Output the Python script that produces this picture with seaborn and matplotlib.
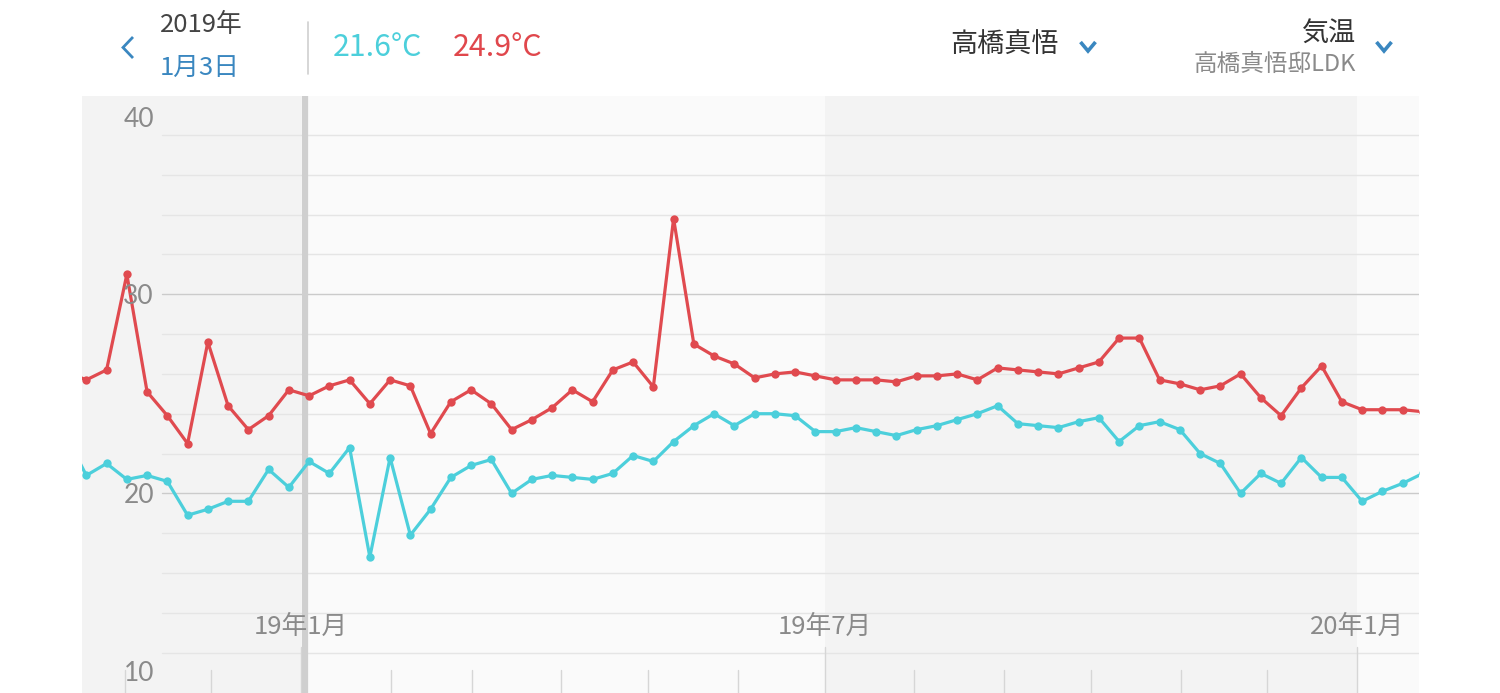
import matplotlib
matplotlib.use("Agg")
import matplotlib.pyplot as plt
import matplotlib.transforms as mtransforms
from matplotlib.lines import Line2D
import numpy as np
import pandas as pd
import seaborn as sns

# ---------------- data ----------------
start_date = "2018-10-11 18:00"
n_points = 68
cursor_date = "2019-01-03"
header_year = "2019年"
header_day = "1月3日"
header_min = "21.6°C"
header_max = "24.9°C"
user_name = "高橋真悟"
metric_name = "気温"
room_name = "高橋真悟邸LDK"

max_temp = [26.1,
            25.7, 26.2, 31.0, 25.1, 23.9, 22.5, 27.6, 24.4, 23.2, 23.9, 25.2, 24.9, 25.4,
            25.7, 24.5, 25.7, 25.4, 23.0, 24.6, 25.2, 24.5, 23.2, 23.7, 24.3, 25.2,
            24.6, 26.2, 26.6, 25.35, 33.8, 27.5, 26.9, 26.5, 25.8, 26.0, 26.1, 25.9,
            25.7, 25.7, 25.7, 25.6, 25.9, 25.9, 26.0, 25.7, 26.3, 26.2, 26.1, 26.0,
            26.3, 26.6, 27.8, 27.8, 25.7, 25.5, 25.2, 25.4, 26.0, 24.8, 23.9, 25.3,
            26.4, 24.6, 24.2, 24.2, 24.2,
            24.1]
min_temp = [22.9,
            20.9, 21.5, 20.7, 20.9, 20.6, 18.9, 19.2, 19.6, 19.6, 21.2, 20.3, 21.6, 21.0,
            22.3, 16.8, 21.8, 17.9, 19.2, 20.8, 21.4, 21.7, 20.0, 20.7, 20.9, 20.8,
            20.7, 21.0, 21.9, 21.6, 22.6, 23.4, 24.0, 23.4, 24.0, 24.0, 23.9, 23.1,
            23.1, 23.3, 23.1, 22.9, 23.2, 23.4, 23.7, 24.0, 24.4, 23.5, 23.4, 23.3,
            23.6, 23.8, 22.6, 23.4, 23.6, 23.2, 22.0, 21.5, 20.0, 21.0, 20.5, 21.8,
            20.8, 20.8, 19.6, 20.1, 20.5,
            21.0]
series_names = ["max", "min"]
series_colors = ["#e04a4f", "#4ccfdb"]

month_ticks = ["2018-11-01", "2018-12-01", "2019-02-01", "2019-03-01", "2019-04-01",
               "2019-05-01", "2019-06-01", "2019-08-01", "2019-09-01", "2019-10-01",
               "2019-11-01", "2019-12-01"]
halfyear_ticks = ["2019-01-01", "2019-07-01", "2020-01-01"]
halfyear_labels = ["19年1月", "19年7月", "20年1月"]
band_edges = ["2018-07-01", "2019-01-01", "2019-07-01", "2020-01-01", "2020-07-01"]
y_major = [20, 30]
y_minor = [12, 14, 16, 18, 22, 24, 26, 28, 32, 34, 36, 38]
y_labels = [40, 30, 20, 10]

dates = pd.date_range(start_date, periods=n_points, freq="7D")
df = pd.DataFrame({
    "date": np.concatenate([dates, dates]),
    "temp": max_temp + min_temp,
    "series": [series_names[0]] * n_points + [series_names[1]] * n_points,
})

# ---------------- figure ----------------
sns.set_theme(style="white")
plt.rcParams["font.family"] = ["Noto Sans CJK JP", "DejaVu Sans"]

W, H = 1500, 693
fig = plt.figure(figsize=(W / 100, H / 100), dpi=100)
fig.patch.set_facecolor("white")

left_px, right_px, top_px = 82, 1419, 96
ax = fig.add_axes([left_px / W, 0, (right_px - left_px) / W, (H - top_px) / H])
ax.set_facecolor("#fafafa")

xmin = pd.Timestamp("2018-10-17 06:00")
xmax = pd.Timestamp("2020-01-22 10:00")

# alternating half-year bands
for i in range(len(band_edges) - 1):
    c = "#f3f3f3" if i % 2 == 0 else "#fafafa"
    ax.axvspan(pd.Timestamp(band_edges[i]), pd.Timestamp(band_edges[i + 1]),
               color=c, lw=0, zorder=0)

# grid lines (start right of the y labels)
gx0 = (162 - left_px) / (right_px - left_px)
for v in y_minor:
    ax.axhline(v, xmin=gx0, xmax=1, color="#e5e5e5", lw=1.0, zorder=1)
for v in y_major:
    ax.axhline(v, xmin=gx0, xmax=1, color="#cbcbcb", lw=1.0, zorder=1)

# bottom tick marks
btrans = mtransforms.blended_transform_factory(ax.transData, ax.transAxes)
for d in month_ticks:
    ax.plot([pd.Timestamp(d)] * 2, [0, 23 / 597], transform=btrans,
            color="#d6d6d6", lw=1.0, zorder=1)
for d in halfyear_ticks:
    ax.plot([pd.Timestamp(d)] * 2, [0, 46 / 597], transform=btrans,
            color="#d6d6d6", lw=1.0, zorder=1)

# cursor line
ax.axvline(pd.Timestamp(cursor_date) - pd.Timedelta(hours=12), color="#cfcfcf",
           lw=4.5, zorder=2)

# data lines
sns.lineplot(data=df, x="date", y="temp", hue="series",
             palette=dict(zip(series_names, series_colors)),
             marker="o", markersize=6, markeredgewidth=0, linewidth=2.3,
             legend=False, ax=ax, zorder=3)

ax.set_xlim(xmin, xmax)
ax.set_ylim(9.97, 39.96)
ax.set_xticks([])
ax.set_yticks([])
ax.set_xlabel("")
ax.set_ylabel("")
for s in ax.spines.values():
    s.set_visible(False)

# y labels inside the plot
ytrans = mtransforms.blended_transform_factory(fig.transFigure, ax.transData)
offsets = {40: -24, 30: -2, 20: -2, 10: 19}
for v in y_labels:
    t = ytrans + mtransforms.ScaledTranslation(0, offsets[v] / 100, fig.dpi_scale_trans)
    ax.text(154 / W, v, str(v), transform=t, ha="right", va="center",
            fontsize=19, color="#8a8a8a", family=["Lato", "DejaVu Sans"], zorder=4)

# month labels
for d, lab in zip(halfyear_ticks, halfyear_labels):
    ax.text(pd.Timestamp(d), 66 / 597, lab, transform=btrans, ha="center",
            va="center", fontsize=18.5, color="#8a8a8a", zorder=4)

# ---------------- header ----------------
def fx(px):
    return px / W


def fy(py):
    return 1 - py / H


fig.text(fx(160), fy(25), header_year, fontsize=18.5, color="#444444", va="center", ha="left")
fig.text(fx(160), fy(68), header_day, fontsize=18.5, color="#3a87c0", va="center", ha="left")
fig.add_artist(Line2D([fx(308), fx(308)], [fy(22), fy(74)], color="#d0d0d0", lw=1.2,
                      transform=fig.transFigure))
fig.text(fx(333), fy(47), header_min, fontsize=21.8, color="#4ccfdb", va="center", ha="left")
fig.text(fx(453), fy(47), header_max, fontsize=21.8, color="#e0474c", va="center", ha="left")
fig.text(fx(950), fy(45), user_name, fontsize=19.5, color="#333333", va="center", ha="left")
fig.text(fx(1356), fy(33), metric_name, fontsize=19.5, color="#333333", va="center", ha="right")
fig.text(fx(1356), fy(64), room_name, fontsize=17, color="#8a8a8a", va="center", ha="right")

# chevrons
fig.add_artist(Line2D([fx(133), fx(123), fx(133)], [fy(37), fy(47.5), fy(58)],
                      color="#3a87c0", lw=2.0, transform=fig.transFigure,
                      solid_joinstyle="miter", solid_capstyle="butt"))
for cx in (1088, 1384):
    fig.add_artist(Line2D([fx(cx - 7.5), fx(cx), fx(cx + 7.5)], [fy(42), fy(51), fy(42)],
                          color="#3a87c0", lw=2.6, transform=fig.transFigure,
                          solid_joinstyle="miter", solid_capstyle="butt"))

fig.savefig("out.png", dpi=100, facecolor="white")
